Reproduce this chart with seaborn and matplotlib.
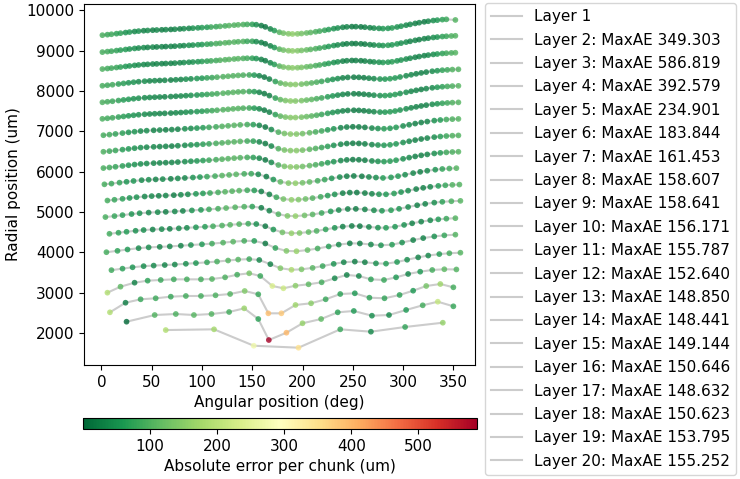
import matplotlib
matplotlib.use("Agg")
import matplotlib.pyplot as plt
import seaborn as sns
import pandas as pd
from matplotlib.colors import Normalize
from matplotlib.cm import ScalarMappable

# ---------------- data ----------------
theta_L2 = [64, 112, 151.5, 196, 237.5, 268, 302, 339.5]
r_L2 = [2072, 2090, 1683, 1634, 2090, 2031, 2148, 2254]
err_L2 = [190, 175, 270, 349.303, 80, 40, 75, 160]

theta_L3 = [25, 53, 74, 92, 109.5, 127, 142, 156, 166.5, 184, 200, 218.5, 235, 251, 269, 286, 303, 319.5, 334.5, 350]
r_L3 = [2279, 2445, 2470, 2445, 2470, 2520, 2611, 2346, 1825, 2006, 2240, 2346, 2512, 2545, 2428, 2445, 2570, 2686, 2775, 2661]
err_L3 = [1.2, 100, 95, 105, 100, 90, 165, 70, 586.819, 400, 160, 110, 70, 60, 45, 40, 60, 90, 210, 80]

theta_L4 = [8.5, 24, 39, 54, 69, 84, 99, 113.5, 128, 142.5, 156, 166, 179, 193, 208.5, 223, 237.5, 252, 266.5, 281.5, 296.5, 310, 323, 337, 350]
r_L4 = [2512, 2750, 2835, 2860, 2900, 2917, 2917, 2934, 2966, 3041, 2959, 2487, 2487, 2694, 2736, 2835, 2966, 2984, 2875, 2860, 2942, 3048, 3165, 3214, 3132]
err_L4 = [190, 25, 80, 85, 80, 90, 90, 95, 100, 140, 80, 392.579, 380, 170, 150, 80, 70, 60, 70, 75, 70, 60, 130, 170, 90]

theta_L5 = [6, 19, 33, 46, 59, 72, 85, 99, 110, 123, 135, 147, 158, 170, 181, 193, 206, 219, 232, 244, 256, 268, 281, 293, 305, 317, 329, 341, 353]
r_L5 = [2999, 3148, 3247, 3297, 3314, 3330, 3330, 3330, 3338, 3380, 3445, 3480, 3413, 3165, 3108, 3172, 3207, 3257, 3356, 3438, 3413, 3330, 3314, 3380, 3463, 3520, 3562, 3580, 3575]
err_L5 = [190, 110, 30, 70, 80, 85, 90, 90, 100, 95, 90, 130, 80, 234.901, 220, 150, 110, 90, 40, 30, 35, 70, 80, 60, 35, 60, 90, 110, 100]

theta_L6 = [10, 21, 31, 42, 52, 63, 73, 84, 94, 105, 115, 126, 136, 147, 157, 168, 178, 189, 199, 210, 220, 231, 241, 252, 262, 273, 283, 294, 304, 315, 325, 336, 346, 357]
r_L6 = [3558, 3595, 3629, 3657, 3671, 3685, 3697, 3716, 3733, 3752, 3771, 3797, 3820, 3832, 3810, 3706, 3606, 3567, 3578, 3614, 3659, 3714, 3754, 3770, 3754, 3726, 3719, 3760, 3816, 3875, 3920, 3956, 3977, 3991]
err_L6 = [85, 69, 54, 44, 39, 35, 37, 44, 55, 75, 92, 103, 103, 83, 37, 30, 140, 183.844, 135, 105, 80, 53, 34, 25, 28, 46, 62, 60, 43, 32, 37, 63, 90, 104]

theta_L7 = [5, 16, 26, 37, 47, 58, 68, 79, 89, 100, 110, 121, 131, 142, 152, 163, 173, 184, 194, 205, 215, 226, 236, 247, 257, 268, 278, 289, 299, 310, 320, 331, 341, 352]
r_L7 = [4003, 4037, 4070, 4103, 4123, 4136, 4147, 4164, 4181, 4199, 4216, 4240, 4264, 4284, 4283, 4219, 4108, 4035, 4027, 4056, 4095, 4146, 4192, 4223, 4220, 4194, 4175, 4190, 4243, 4304, 4353, 4395, 4421, 4438]
err_L7 = [90, 70, 60, 40, 41, 30, 35, 30, 49, 60, 85, 98, 105, 90, 65, 18, 72, 140, 161.453, 118, 90, 65, 40, 25, 25, 37, 52, 65, 48, 30, 30, 48, 78, 101]

theta_L8 = [8, 17, 25, 34, 42, 51, 60, 68, 77, 85, 94, 103, 111, 120, 128, 137, 146, 154, 163, 171, 180, 189, 197, 206, 214, 223, 232, 240, 249, 257, 266, 275, 283, 292, 301, 309, 318, 327, 335, 343, 352]
r_L8 = [4460, 4486, 4510, 4535, 4553, 4566, 4575, 4583, 4595, 4608, 4621, 4635, 4647, 4665, 4683, 4700, 4710, 4702, 4648, 4566, 4495, 4473, 4479, 4503, 4531, 4569, 4608, 4638, 4654, 4649, 4630, 4612, 4609, 4635, 4680, 4720, 4761, 4795, 4818, 4835, 4847]
err_L8 = [87, 70, 62, 45, 44, 30, 38, 26, 40, 40, 55, 65, 86, 95, 104, 98, 85, 45, 18, 54, 125, 158.607, 140, 112, 95, 70, 50, 30, 26, 20, 33, 48, 62, 58, 49, 30, 31, 38, 60, 80, 101]

theta_L9 = [4, 13, 21, 30, 38, 47, 56, 64, 73, 81, 90, 99, 107, 116, 124, 133, 142, 150, 159, 167, 176, 185, 193, 202, 210, 219, 228, 236, 245, 253, 262, 271, 279, 288, 296, 305, 314, 322, 331, 339, 348, 357]
r_L9 = [4875, 4899, 4923, 4950, 4970, 4986, 4996, 5004, 5014, 5027, 5040, 5053, 5066, 5082, 5099, 5118, 5132, 5135, 5105, 5033, 4946, 4903, 4899, 4916, 4940, 4976, 5016, 5049, 5075, 5078, 5065, 5043, 5031, 5045, 5080, 5125, 5168, 5202, 5233, 5253, 5267, 5277]
err_L9 = [91, 78, 68, 50, 47, 35, 40, 28, 37, 32, 50, 58, 79, 90, 103, 100, 95, 70, 22, 30, 97, 138, 158.641, 125, 105, 80, 60, 38, 28, 22, 30, 42, 55, 64, 52, 40, 28, 33, 45, 72, 92, 104]

theta_L10 = [6, 13, 21, 28, 35, 43, 50, 57, 64, 72, 79, 86, 94, 101, 108, 116, 123, 130, 137, 145, 152, 159, 167, 174, 181, 189, 196, 203, 210, 218, 225, 232, 240, 247, 254, 262, 269, 276, 283, 291, 298, 305, 313, 320, 327, 335, 342, 349, 356]
r_L10 = [5285, 5304, 5328, 5349, 5368, 5385, 5395, 5402, 5409, 5418, 5428, 5439, 5451, 5462, 5472, 5487, 5502, 5517, 5530, 5540, 5536, 5510, 5438, 5367, 5322, 5303, 5307, 5324, 5345, 5377, 5408, 5438, 5468, 5482, 5483, 5470, 5452, 5441, 5439, 5460, 5495, 5530, 5569, 5600, 5625, 5648, 5663, 5674, 5681]
err_L10 = [89, 78, 68, 52, 50, 36, 40, 28, 35, 25, 40, 40, 56, 62, 81, 90, 102, 100, 102, 84, 63, 25, 28, 81, 128, 156.171, 140, 123, 100, 85, 65, 51, 30, 28, 20, 28, 34, 52, 58, 64, 50, 42, 28, 30, 36, 60, 78, 98, 100]

theta_L11 = [3, 10, 18, 25, 32, 40, 47, 54, 61, 69, 76, 83, 91, 98, 105, 113, 120, 127, 134, 142, 149, 156, 164, 171, 178, 186, 193, 200, 207, 215, 222, 229, 237, 244, 251, 259, 266, 273, 280, 288, 295, 302, 310, 317, 324, 332, 339, 346, 353]
r_L11 = [5687, 5705, 5729, 5750, 5770, 5790, 5801, 5809, 5816, 5824, 5834, 5845, 5856, 5867, 5878, 5891, 5905, 5920, 5935, 5947, 5950, 5935, 5879, 5806, 5748, 5717, 5714, 5725, 5746, 5775, 5804, 5836, 5867, 5888, 5894, 5886, 5870, 5855, 5845, 5860, 5890, 5925, 5965, 5997, 6024, 6050, 6068, 6079, 6088]
err_L11 = [90, 80, 75, 55, 55, 38, 43, 30, 38, 28, 40, 35, 53, 58, 77, 86, 102, 100, 105, 90, 80, 38, 20, 55, 110, 140, 155.787, 128, 115, 90, 77, 55, 42, 28, 26, 22, 36, 44, 62, 60, 60, 44, 37, 28, 38, 50, 74, 88, 102]

theta_L12_14 = [2, 8, 14, 21, 27, 33, 39, 45, 52, 58, 64, 70, 76, 83, 89, 95, 101, 107, 114, 120, 126, 132, 138, 145, 151, 157, 163, 169, 176, 182, 188, 194, 200, 207, 213, 219, 225, 231, 238, 244, 250, 256, 262, 269, 275, 281, 287, 293, 300, 306, 312, 318, 324, 331, 337, 343, 349, 355]
r_L12 = [6090, 6105, 6122, 6143, 6161, 6178, 6193, 6203, 6212, 6218, 6224, 6230, 6239, 6250, 6259, 6267, 6277, 6286, 6298, 6310, 6323, 6336, 6347, 6355, 6353, 6335, 6293, 6231, 6166, 6133, 6119, 6119, 6130, 6151, 6172, 6196, 6223, 6249, 6276, 6293, 6300, 6296, 6285, 6267, 6257, 6251, 6262, 6285, 6320, 6350, 6379, 6406, 6429, 6453, 6468, 6480, 6489, 6495]
err_L12 = [92, 88, 78, 69, 58, 53, 45, 43, 38, 37, 34, 36, 37, 44, 48, 58, 66, 80, 90, 101, 102, 105, 100, 89, 69, 38, 21, 41, 96, 133, 152.640, 145, 129, 114, 96, 83, 67, 54, 38, 32, 24, 26, 27, 39, 49, 62, 63, 62, 49, 41, 33, 32, 35, 49, 65, 85, 97, 104]
r_L13 = [6495, 6510, 6527, 6548, 6566, 6583, 6598, 6608, 6617, 6623, 6629, 6635, 6644, 6655, 6664, 6672, 6682, 6691, 6703, 6715, 6728, 6741, 6752, 6760, 6758, 6740, 6698, 6636, 6571, 6538, 6524, 6524, 6535, 6556, 6577, 6601, 6628, 6654, 6681, 6698, 6705, 6701, 6690, 6672, 6662, 6656, 6667, 6690, 6725, 6755, 6784, 6811, 6834, 6858, 6873, 6885, 6894, 6900]
err_L13 = [95, 85, 80, 66, 60, 50, 47, 40, 40, 34, 36, 33, 39, 41, 50, 55, 68, 77, 92, 98, 104, 102, 102, 86, 71, 36, 23, 38, 98, 132, 145, 148.850, 131, 111, 98, 80, 69, 51, 40, 29, 26, 23, 29, 36, 51, 59, 65, 59, 51, 38, 35, 29, 37, 46, 67, 82, 99, 101]
r_L14 = [6905, 6920, 6937, 6958, 6976, 6993, 7008, 7018, 7027, 7033, 7039, 7045, 7054, 7065, 7074, 7082, 7092, 7101, 7113, 7125, 7138, 7151, 7162, 7170, 7168, 7150, 7108, 7046, 6981, 6948, 6934, 6934, 6945, 6966, 6987, 7011, 7038, 7064, 7091, 7108, 7115, 7111, 7100, 7082, 7072, 7066, 7077, 7100, 7135, 7165, 7194, 7221, 7244, 7268, 7283, 7295, 7304, 7310]
err_L14 = [90, 88, 75, 70, 55, 54, 40, 44, 33, 38, 28, 36, 32, 45, 44, 58, 63, 80, 88, 101, 100, 105, 98, 90, 66, 35, 18, 42, 95, 130, 148.441, 144, 128, 115, 94, 84, 64, 55, 35, 32, 22, 26, 25, 40, 47, 63, 60, 62, 46, 42, 30, 33, 34, 50, 62, 86, 95, 104]

theta_L15_17 = [1, 6, 11, 17, 22, 27, 32, 37, 43, 48, 53, 58, 63, 69, 74, 79, 84, 89, 95, 100, 105, 110, 115, 121, 126, 131, 136, 141, 147, 152, 157, 162, 167, 173, 178, 183, 188, 193, 199, 204, 209, 214, 219, 225, 230, 235, 240, 245, 251, 256, 261, 266, 271, 277, 282, 287, 292, 297, 303, 308, 313, 318, 323, 329, 334, 339, 344, 349, 355]
r_L15 = [7312, 7325, 7338, 7356, 7371, 7386, 7400, 7413, 7425, 7432, 7438, 7443, 7448, 7454, 7461, 7468, 7476, 7484, 7492, 7500, 7508, 7515, 7525, 7537, 7548, 7559, 7569, 7576, 7580, 7576, 7560, 7527, 7478, 7417, 7378, 7355, 7344, 7344, 7353, 7367, 7382, 7401, 7421, 7448, 7470, 7490, 7508, 7520, 7524, 7521, 7512, 7500, 7488, 7479, 7478, 7487, 7505, 7530, 7560, 7585, 7609, 7631, 7651, 7672, 7685, 7698, 7706, 7714, 7720]
err_L15 = [93, 88, 85, 74, 68, 58, 54, 47, 44, 40, 39, 35, 36, 34, 38, 39, 45, 48, 58, 64, 76, 84, 93, 100, 104, 104, 104, 97, 84, 62, 38, 22, 31, 71, 110, 133, 147, 149.144, 132, 121, 107, 96, 81, 69, 54, 46, 34, 31, 24, 26, 25, 34, 40, 55, 60, 65, 61, 56, 46, 39, 32, 31, 33, 44, 56, 73, 84, 99, 102]
r_L16 = [7722, 7735, 7748, 7766, 7781, 7796, 7810, 7823, 7835, 7842, 7848, 7853, 7858, 7864, 7871, 7878, 7886, 7894, 7902, 7910, 7918, 7925, 7935, 7947, 7958, 7969, 7979, 7986, 7990, 7986, 7970, 7937, 7888, 7827, 7788, 7765, 7754, 7754, 7763, 7777, 7792, 7811, 7831, 7858, 7880, 7900, 7918, 7930, 7934, 7931, 7922, 7910, 7898, 7889, 7888, 7897, 7915, 7940, 7970, 7995, 8019, 8041, 8061, 8082, 8095, 8108, 8116, 8124, 8130]
err_L16 = [96, 90, 82, 76, 65, 60, 51, 49, 41, 42, 36, 37, 33, 36, 35, 41, 42, 50, 55, 66, 73, 86, 90, 102, 101, 106, 101, 99, 81, 64, 35, 24, 28, 74, 112, 136, 150.646, 145, 135, 118, 110, 93, 84, 66, 57, 43, 37, 28, 27, 23, 28, 31, 43, 52, 63, 62, 64, 53, 49, 36, 35, 28, 36, 41, 59, 70, 87, 96, 105]
r_L17 = [8132, 8145, 8158, 8176, 8191, 8206, 8220, 8233, 8245, 8252, 8258, 8263, 8268, 8274, 8281, 8288, 8296, 8304, 8312, 8320, 8328, 8335, 8345, 8357, 8368, 8379, 8389, 8396, 8400, 8396, 8380, 8347, 8298, 8237, 8198, 8175, 8164, 8164, 8173, 8187, 8202, 8221, 8241, 8268, 8290, 8310, 8328, 8340, 8344, 8341, 8332, 8320, 8308, 8299, 8298, 8307, 8325, 8350, 8380, 8405, 8429, 8451, 8471, 8492, 8505, 8518, 8526, 8534, 8540]
err_L17 = [92, 85, 86, 70, 68, 55, 54, 42, 45, 35, 40, 30, 36, 28, 38, 35, 45, 45, 58, 60, 76, 80, 93, 98, 104, 100, 104, 95, 84, 60, 35, 20, 30, 70, 110, 130, 145, 148.632, 130, 122, 105, 96, 80, 70, 52, 46, 32, 31, 22, 26, 24, 34, 38, 55, 58, 65, 60, 56, 44, 39, 30, 31, 32, 44, 55, 73, 82, 99, 100]

theta_L18_19 = [1, 6, 10, 15, 19, 24, 28, 33, 37, 42, 46, 51, 55, 60, 64, 69, 73, 78, 82, 87, 91, 96, 100, 105, 109, 114, 118, 123, 127, 132, 136, 141, 145, 150, 154, 159, 163, 168, 172, 177, 181, 186, 190, 195, 199, 204, 208, 213, 217, 222, 226, 231, 235, 240, 244, 249, 253, 258, 262, 267, 271, 276, 280, 285, 289, 294, 298, 303, 307, 312, 316, 321, 325, 330, 334, 339, 343, 348, 352]
r_L18 = [8547, 8560, 8570, 8585, 8597, 8612, 8624, 8638, 8648, 8658, 8664, 8671, 8675, 8680, 8684, 8689, 8694, 8702, 8708, 8716, 8721, 8729, 8735, 8743, 8749, 8758, 8766, 8777, 8785, 8796, 8804, 8811, 8815, 8815, 8807, 8785, 8753, 8702, 8661, 8620, 8597, 8582, 8577, 8580, 8588, 8602, 8614, 8632, 8648, 8669, 8687, 8709, 8725, 8743, 8753, 8759, 8758, 8753, 8745, 8732, 8723, 8716, 8710, 8717, 8727, 8750, 8770, 8795, 8815, 8839, 8857, 8879, 8893, 8910, 8920, 8933, 8940, 8947, 8952]
err_L18 = [96, 86, 84, 80, 70, 60, 56, 48, 46, 40, 40, 35, 35, 30, 33, 30, 36, 36, 44, 45, 53, 56, 67, 72, 85, 88, 99, 100, 106, 102, 105, 96, 90, 72, 50, 30, 22, 38, 66, 106, 130, 140, 150.623, 143, 135, 118, 112, 95, 89, 73, 67, 51, 47, 33, 33, 24, 27, 23, 30, 33, 44, 50, 62, 61, 67, 57, 55, 43, 41, 32, 34, 29, 39, 43, 59, 70, 85, 93, 103]
r_L19 = [8967, 8980, 8990, 9005, 9017, 9032, 9044, 9058, 9068, 9078, 9084, 9091, 9095, 9100, 9104, 9109, 9114, 9122, 9128, 9136, 9141, 9149, 9155, 9163, 9169, 9178, 9186, 9197, 9205, 9216, 9224, 9231, 9235, 9235, 9227, 9205, 9173, 9122, 9081, 9040, 9017, 9002, 8997, 9000, 9008, 9022, 9034, 9052, 9068, 9089, 9107, 9129, 9145, 9163, 9173, 9179, 9178, 9173, 9165, 9152, 9143, 9136, 9130, 9137, 9147, 9170, 9190, 9215, 9235, 9259, 9277, 9299, 9313, 9330, 9340, 9353, 9360, 9367, 9372]
err_L19 = [92, 88, 80, 76, 66, 62, 50, 50, 38, 44, 30, 39, 26, 35, 24, 35, 30, 39, 36, 47, 48, 59, 60, 75, 78, 91, 95, 102, 100, 104, 98, 98, 80, 75, 42, 29, 18, 35, 60, 104, 125, 142, 153.795, 145, 130, 120, 105, 97, 82, 75, 60, 53, 40, 35, 25, 26, 20, 25, 22, 35, 38, 52, 55, 63, 60, 59, 48, 45, 33, 34, 26, 31, 33, 45, 52, 72, 80, 95, 100]

theta_L20 = [1, 6, 10, 15, 19, 24, 28, 33, 37, 42, 46, 51, 55, 60, 64, 69, 73, 78, 82, 87, 91, 96, 100, 105, 109, 114, 118, 123, 127, 132, 136, 141, 145, 150, 154, 159, 163, 168, 172, 177, 181, 186, 190, 195, 199, 204, 208, 213, 217, 222, 226, 231, 235, 240, 244, 249, 253, 258, 262, 267, 271, 276, 280, 285, 289, 294, 298, 303, 307, 312, 316, 321, 325, 330, 334, 339, 343, 352]
r_L20 = [9387, 9400, 9410, 9425, 9437, 9452, 9464, 9478, 9488, 9498, 9504, 9511, 9515, 9520, 9524, 9529, 9534, 9542, 9548, 9556, 9561, 9569, 9575, 9583, 9589, 9598, 9606, 9617, 9625, 9636, 9644, 9651, 9655, 9655, 9647, 9625, 9593, 9542, 9501, 9460, 9437, 9422, 9417, 9420, 9428, 9442, 9454, 9472, 9488, 9509, 9527, 9549, 9565, 9583, 9593, 9599, 9598, 9593, 9585, 9572, 9563, 9556, 9550, 9557, 9567, 9590, 9610, 9635, 9655, 9679, 9697, 9719, 9733, 9750, 9760, 9773, 9780, 9765]
err_L20 = [94, 82, 85, 70, 72, 52, 58, 40, 48, 32, 42, 28, 37, 25, 35, 22, 37, 28, 42, 35, 51, 50, 65, 62, 83, 80, 97, 92, 104, 100, 103, 95, 88, 70, 45, 22, 15, 35, 63, 104, 128, 142, 155.252, 145, 133, 120, 110, 97, 87, 75, 65, 53, 45, 35, 31, 20, 25, 18, 28, 30, 42, 45, 60, 55, 65, 50, 53, 40, 39, 28, 32, 22, 37, 45, 57, 72, 83, 101]

layer_names = ["Layer %d" % k for k in range(1, 21)]

layers = [
    (theta_L2, r_L2, err_L2), (theta_L3, r_L3, err_L3), (theta_L4, r_L4, err_L4),
    (theta_L5, r_L5, err_L5), (theta_L6, r_L6, err_L6), (theta_L7, r_L7, err_L7),
    (theta_L8, r_L8, err_L8), (theta_L9, r_L9, err_L9), (theta_L10, r_L10, err_L10),
    (theta_L11, r_L11, err_L11), (theta_L12_14, r_L12, err_L12), (theta_L12_14, r_L13, err_L13),
    (theta_L12_14, r_L14, err_L14), (theta_L15_17, r_L15, err_L15), (theta_L15_17, r_L16, err_L16),
    (theta_L15_17, r_L17, err_L17), (theta_L18_19, r_L18, err_L18), (theta_L18_19, r_L19, err_L19),
    (theta_L20, r_L20, err_L20),
]

# ---------------- figure ----------------
plt.rcParams["font.family"] = ["DejaVu Sans"]
plt.rcParams["font.size"] = 11

fig = plt.figure(figsize=(7.4, 4.79), dpi=100)
ax = fig.add_axes([0.1135, 0.238, 0.5284, 0.7536])
cax = fig.add_axes([0.1126, 0.1044, 0.5316, 0.023])

all_err = [e for _, _, es in layers for e in es]
norm = Normalize(vmin=min(all_err), vmax=max(all_err))
cmap = plt.get_cmap("RdYlGn_r")
LINE_C = "#cccccc"

ax.plot([], [], color=LINE_C, lw=1.5, label=layer_names[0])
for i, (th, rr, ee) in enumerate(layers):
    df = pd.DataFrame({"theta": th, "r": rr, "err": ee})
    lab = "%s: MaxAE %.3f" % (layer_names[i + 1], max(ee))
    sns.lineplot(data=df, x="theta", y="r", sort=False, estimator=None,
                 color=LINE_C, lw=1.5, ax=ax, label=lab, zorder=1)
    sns.scatterplot(data=df, x="theta", y="r", hue="err", palette=cmap,
                    hue_norm=norm, s=17, linewidth=0, alpha=0.8,
                    legend=False, ax=ax, zorder=2)

ax.set_xlim(-17.3, 371.5)
ax.set_ylim(1205, 10160)
ax.set_xticks(range(0, 351, 50))
ax.set_yticks(range(2000, 10001, 1000))
ax.set_xlabel("Angular position (deg)")
ax.set_ylabel("Radial position (um)")

handles, labels = ax.get_legend_handles_labels()
if ax.get_legend() is not None:
    ax.get_legend().remove()
fig.legend(handles, labels, loc="upper left",
           bbox_to_anchor=(485 / 740, 1 - 3 / 479), borderaxespad=0,
           fontsize=11, labelspacing=0.55)

sm = ScalarMappable(norm=norm, cmap=cmap)
cb = fig.colorbar(sm, cax=cax, orientation="horizontal")
cb.set_label("Absolute error per chunk (um)")

fig.savefig("out.png", dpi=100)
